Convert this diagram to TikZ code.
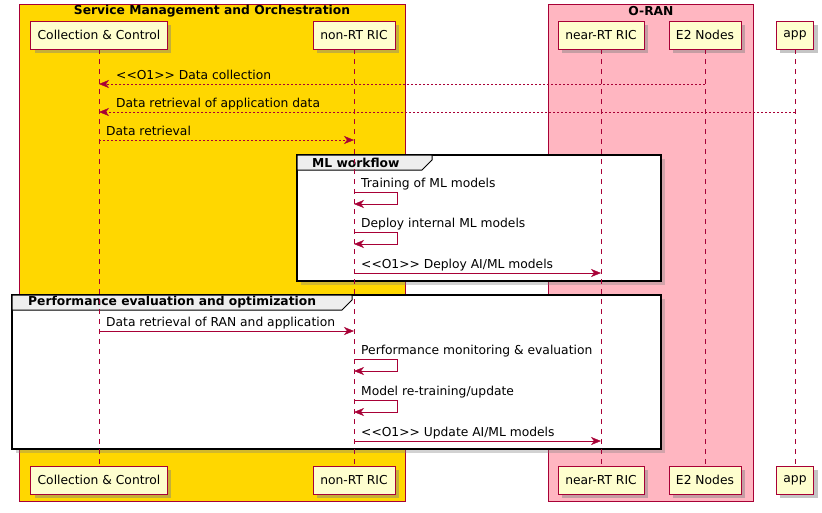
\documentclass[tikz,border=0pt]{standalone}
\usepackage{fontspec}
\setmainfont{DejaVu Sans}
\usetikzlibrary{arrows.meta,shadows}
\definecolor{umlred}{HTML}{A80036}
\definecolor{umlbox}{HTML}{FEFECE}
\definecolor{smoyellow}{HTML}{FFD700}
\definecolor{oranpink}{HTML}{FFB6C1}
\definecolor{tabgray}{HTML}{EEEEEE}
\newcommand\oone{<\kern0pt<O1>\kern0pt>}
\begin{document}
\begin{tikzpicture}[x=1pt,y=-1pt,
    font=\fontsize{12.3}{14}\selectfont,
    actor/.style={draw=umlred,fill=umlbox,minimum height=28pt,inner xsep=7pt,inner ysep=0pt,anchor=north,
      drop shadow={shadow xshift=4pt,shadow yshift=-4pt,opacity=.45}},
    groupbox/.style={draw=umlred},
    lifeline/.style={umlred,dash pattern=on 5pt off 5pt},
    msg/.style={umlred,-{Stealth[length=10pt,width=8pt,inset=3pt]}},
    dotmsg/.style={msg,dash pattern=on 2pt off 2pt},
    lbl/.style={text=black,anchor=base west,inner sep=0pt,yshift=4.5pt},
    frame/.style={draw=black,line width=1.5pt,fill=white,
      drop shadow={shadow xshift=4pt,shadow yshift=-4pt,opacity=.35}},
    tabbox/.style={draw=black,line width=1pt,fill=tabgray},
    title/.style={font=\fontsize{12.3}{14}\selectfont\bfseries,inner sep=0pt}
  ]
  \useasboundingbox (0,0) rectangle (822,512);
  \fill[white] (0,0) rectangle (822,512);

  \draw[groupbox,fill=smoyellow] (19,4) rectangle (405,501);
  \node[title] (smo) at (212,11.5) {Service Management and Orchestration};
  \draw[groupbox,fill=oranpink] (548,4) rectangle (753,501);
  \node[title] (oran) at (651,11.5) {O-RAN};

  \draw[frame] (297,155) rectangle (661,281);
  \draw[tabbox] (297,155) -- (432,155) -- (432,160) -- (422,170) -- (297,170) -- cycle;
  \node[title,anchor=west] (mlwf) at (312,162.5) {ML workflow};

  \draw[frame] (12,295) rectangle (661,449);
  \draw[tabbox] (12,295) -- (352,295) -- (352,300) -- (342,310) -- (12,310) -- cycle;
  \node[title,anchor=west] (perf) at (28,302.5) {Performance evaluation and optimization};

  \foreach \n/\x/\t in {cc/99/Collection \& Control,nr/354/non-RT RIC,near/601/near-RT RIC,e2/705/E2 Nodes,app/795/app} {
    \node[actor] (\n t) at (\x,21) {\t};
    \node[actor] (\n b) at (\x,466) {\t};
    \draw[lifeline] (\n t) -- (\n b);
  }

  \draw[dotmsg] (e2t |- 0,84) -- (cct |- 0,84) node[lbl,xshift=17pt] {\oone{} Data collection};
  \draw[dotmsg] (appt |- 0,112) -- (cct |- 0,112) node[lbl,xshift=17pt] {Data retrieval of application data};
  \draw[dotmsg] (cct |- 0,140) node[lbl,xshift=7pt] {Data retrieval} -- (nrt |- 0,140);

  \draw[msg] (nrt |- 0,192) node[lbl,xshift=7pt] {Training of ML models} -- ++(43,0) -- ++(0,12) -- ++(-43,0);
  \draw[msg] (nrt |- 0,232) node[lbl,xshift=7pt] {Deploy internal ML models} -- ++(43,0) -- ++(0,12) -- ++(-43,0);
  \draw[msg] (nrt |- 0,273) node[lbl,xshift=7pt] {\oone{} Deploy AI/ML models} -- (neart |- 0,273);

  \draw[msg] (cct |- 0,331) node[lbl,xshift=7pt] {Data retrieval of RAN and application} -- (nrt |- 0,331);
  \draw[msg] (nrt |- 0,359) node[lbl,xshift=7pt] {Performance monitoring \& evaluation} -- ++(43,0) -- ++(0,12) -- ++(-43,0);
  \draw[msg] (nrt |- 0,400) node[lbl,xshift=7pt] {Model re-training/update} -- ++(43,0) -- ++(0,12) -- ++(-43,0);
  \draw[msg] (nrt |- 0,441) node[lbl,xshift=7pt] {\oone{} Update AI/ML models} -- (neart |- 0,441);
\end{tikzpicture}
\end{document}
